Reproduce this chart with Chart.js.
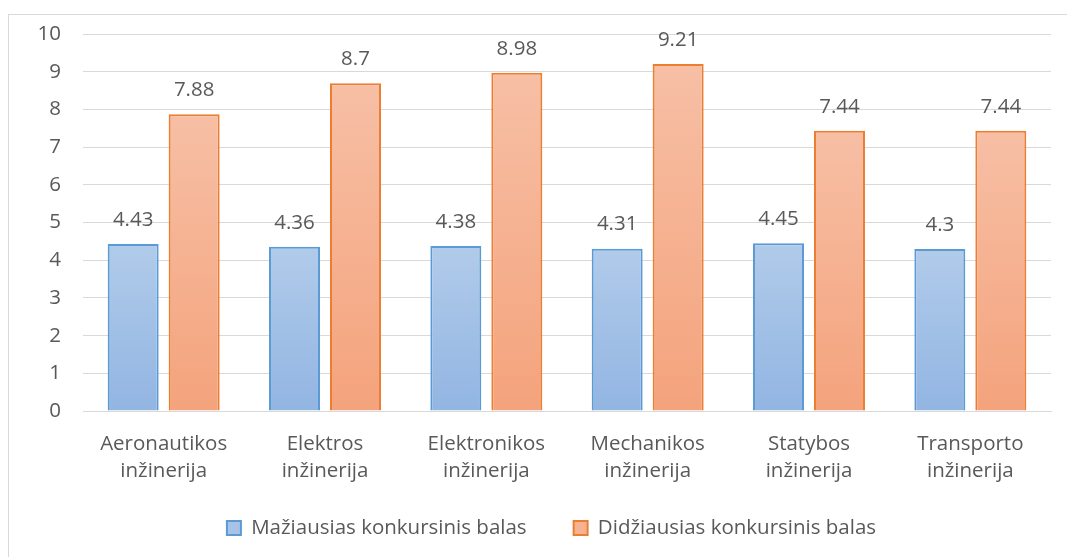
<!DOCTYPE html>
<html>
<head>
<meta charset="utf-8">
<script src="https://cdn.jsdelivr.net/npm/chart.js@4/dist/chart.umd.min.js"></script>
<style>
  html, body { margin: 0; padding: 0; background: #ffffff; }
  #wrap { width: 1067px; height: 557px; position: relative; }
</style>
</head>
<body>
<div id="wrap"><canvas id="c" width="1067" height="557"></canvas></div>
<script>
const categories = [
  ["Aeronautikos", "inžinerija"],
  ["Elektros", "inžinerija"],
  ["Elektronikos", "inžinerija"],
  ["Mechanikos", "inžinerija"],
  ["Statybos", "inžinerija"],
  ["Transporto", "inžinerija"]
];
const seriesNames = ["Mažiausias konkursinis balas", "Didžiausias konkursinis balas"];
const minScores = [4.43, 4.36, 4.38, 4.31, 4.45, 4.3];
const maxScores = [7.88, 8.7, 8.98, 9.21, 7.44, 7.44];
const yTicks = [0, 1, 2, 3, 4, 5, 6, 7, 8, 9, 10];

const FONT = "'Open Sans', 'Noto Sans', sans-serif";
const FS = 20.5;
const TEXT = '#595959';
const GRID = '#d9d9d9';
const LEGEND_GAP = 47;

function barGradient(top, bottom) {
  return function (ctx) {
    const chart = ctx.chart;
    const area = chart.chartArea;
    if (!area) return bottom;
    const ys = chart.scales.y;
    const yTop = ys.getPixelForValue(ctx.raw);
    const yBot = ys.getPixelForValue(0);
    const g = chart.ctx.createLinearGradient(0, yTop, 0, yBot);
    g.addColorStop(0, top);
    g.addColorStop(1, bottom);
    return g;
  };
}

const frame = {
  id: 'frame',
  beforeDraw(chart) {
    const c = chart.ctx;
    c.save();
    c.fillStyle = '#ffffff';
    c.fillRect(0, 0, chart.width, chart.height);
    c.strokeStyle = GRID;
    c.lineWidth = 1;
    c.strokeRect(8.5, 14.5, chart.width + 10, chart.height + 10);
    c.restore();
  }
};

// place the legend row where the reference has it
const legendPlace = {
  id: 'legendPlace',
  afterLayout(chart) {
    const lg = chart.legend;
    if (!lg) return;
    const h = lg.height;
    lg.top = 528 - LEGEND_GAP - FS / 2;
    lg.bottom = lg.top + h;
    lg.left += 22;
    lg.right += 22;
  }
};

const valueLabels = {
  id: 'valueLabels',
  afterDatasetsDraw(chart) {
    const c = chart.ctx;
    c.save();
    c.font = FS + "px " + FONT;
    c.fillStyle = TEXT;
    c.textAlign = 'center';
    c.textBaseline = 'middle';
    chart.data.datasets.forEach((ds, di) => {
      const meta = chart.getDatasetMeta(di);
      meta.data.forEach((bar, i) => {
        c.fillText(String(ds.data[i]), bar.x, bar.y - 24);
      });
    });
    c.restore();
  }
};

new Chart(document.getElementById('c'), {
  type: 'bar',
  data: {
    labels: categories,
    datasets: [
      {
        label: seriesNames[0],
        data: minScores,
        backgroundColor: barGradient('#b1cbea', '#92b5e2'),
        borderColor: '#5b9bd5',
        borderWidth: 2,
        borderSkipped: 'bottom'
      },
      {
        label: seriesNames[1],
        data: maxScores,
        backgroundColor: barGradient('#f7bfa5', '#f4a37c'),
        borderColor: '#ed7d31',
        borderWidth: 2,
        borderSkipped: 'bottom'
      }
    ]
  },
  options: {
    responsive: false,
    animation: false,
    devicePixelRatio: 1,
    categoryPercentage: 0.756,
    barPercentage: 0.836,
    layout: { padding: { left: 8, right: 16, top: 32, bottom: -29.5 } },
    plugins: {
      tooltip: { enabled: false },
      legend: {
        position: 'bottom',
        labels: {
          font: { family: FONT, size: FS },
          color: TEXT,
          boxWidth: 14,
          boxHeight: 14,
          padding: LEGEND_GAP,
          generateLabels(chart) {
            const fills = ['#a7c4e8', '#f6b293'];
            return chart.data.datasets.map((ds, i) => ({
              text: ds.label,
              fillStyle: fills[i],
              strokeStyle: ds.borderColor,
              lineWidth: 2,
              fontColor: TEXT,
              datasetIndex: i,
              hidden: false
            }));
          }
        }
      }
    },
    scales: {
      x: {
        grid: { display: false, drawTicks: false },
        border: { display: true, color: GRID, width: 1 },
        ticks: {
          color: TEXT,
          font: { family: FONT, size: FS, lineHeight: 1.35 },
          padding: 19,
          maxRotation: 0,
          autoSkip: false
        },
        afterFit(s) { s.height = 98; }
      },
      y: {
        min: 0,
        max: 10,
        afterBuildTicks(s) { s.ticks = yTicks.map(v => ({ value: v })); },
        grid: { color: GRID, lineWidth: 1, drawTicks: false },
        border: { display: false },
        ticks: {
          color: TEXT,
          font: { family: FONT, size: FS },
          padding: 22
        },
        afterFit(s) { s.width = 75; }
      }
    }
  },
  plugins: [frame, legendPlace, valueLabels]
});
</script>
</body>
</html>
